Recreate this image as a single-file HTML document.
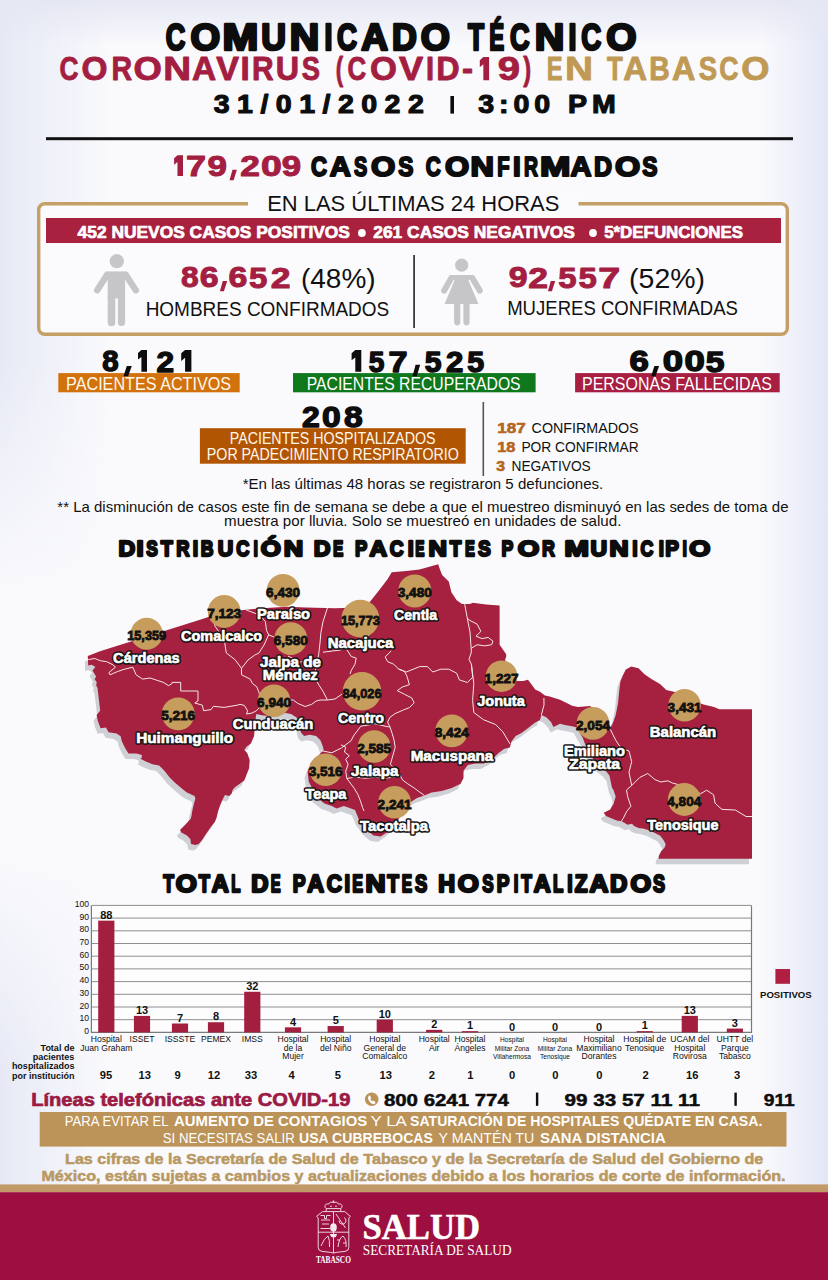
<!DOCTYPE html>
<html><head><meta charset="utf-8"><title>Comunicado Técnico COVID-19 Tabasco</title>
<style>
html,body{margin:0;padding:0;background:#f7f7fb;}
body{width:828px;height:1280px;overflow:hidden;}
svg{display:block;}
.sb{font-family:"Liberation Sans",sans-serif;font-weight:bold;}
.sr{font-family:"Liberation Sans",sans-serif;font-weight:normal;}
.lbl{font-family:"Liberation Sans",sans-serif;font-weight:bold;fill:#fff;stroke:#161616;stroke-width:2.4px;paint-order:stroke fill;stroke-linejoin:round;}
.num{font-family:"Liberation Sans",sans-serif;font-weight:bold;fill:#111;}
</style></head>
<body>
<svg width="828" height="1280" viewBox="0 0 828 1280">
<defs>
<linearGradient id="bgL" x1="0" y1="0" x2="1" y2="0">
<stop offset="0" stop-color="#e6e9f5" stop-opacity="1"/>
<stop offset="1" stop-color="#e6e9f5" stop-opacity="0"/>
</linearGradient>
<linearGradient id="bgR" x1="0" y1="0" x2="1" y2="0">
<stop offset="0" stop-color="#e3e6f6" stop-opacity="0"/>
<stop offset="1" stop-color="#e3e6f6" stop-opacity="1"/>
</linearGradient>
<linearGradient id="bgT" x1="0" y1="0" x2="0" y2="1">
<stop offset="0" stop-color="#e5e7f3" stop-opacity="1"/>
<stop offset="1" stop-color="#e5e7f3" stop-opacity="0"/>
</linearGradient>
<linearGradient id="mL" x1="0" y1="0" x2="0" y2="1">
<stop offset="0" stop-color="#fff"/>
<stop offset="0.3" stop-color="#fff"/>
<stop offset="0.5" stop-color="#000"/>
<stop offset="0.72" stop-color="#000"/>
<stop offset="0.9" stop-color="#fff"/>
<stop offset="1" stop-color="#fff"/>
</linearGradient>
<mask id="maskL"><rect x="0" y="0" width="120" height="1190" fill="url(#mL)"/></mask>
</defs>
<rect x="0" y="0" width="828" height="1280" fill="#fafafd"/>
<rect x="0" y="0" width="110" height="1190" fill="url(#bgL)" mask="url(#maskL)"/>
<rect x="760" y="0" width="68" height="1190" fill="url(#bgR)"/>
<rect x="0" y="0" width="828" height="45" fill="url(#bgT)"/>
<text x="165.69" y="49.70" font-size="36.7733" font-family="Liberation Sans" font-weight="bold" fill="#0d0d0d" stroke="#0d0d0d" stroke-width="2.6" stroke-linejoin="round" textLength="19.55" lengthAdjust="spacingAndGlyphs">C</text>
<text x="190.64" y="49.70" font-size="36.7733" font-family="Liberation Sans" font-weight="bold" fill="#0d0d0d" stroke="#0d0d0d" stroke-width="2.6" stroke-linejoin="round" textLength="29.67" lengthAdjust="spacingAndGlyphs">O</text>
<text x="222.62" y="49.70" font-size="36.7733" font-family="Liberation Sans" font-weight="bold" fill="#0d0d0d" stroke="#0d0d0d" stroke-width="2.6" stroke-linejoin="round" textLength="35.86" lengthAdjust="spacingAndGlyphs">M</text>
<text x="261.24" y="49.70" font-size="36.7733" font-family="Liberation Sans" font-weight="bold" fill="#0d0d0d" stroke="#0d0d0d" stroke-width="2.6" stroke-linejoin="round" textLength="24.75" lengthAdjust="spacingAndGlyphs">U</text>
<text x="289.87" y="49.70" font-size="36.7733" font-family="Liberation Sans" font-weight="bold" fill="#0d0d0d" stroke="#0d0d0d" stroke-width="2.6" stroke-linejoin="round" textLength="29.48" lengthAdjust="spacingAndGlyphs">N</text>
<text x="324.50" y="49.70" font-size="36.7733" font-family="Liberation Sans" font-weight="bold" fill="#0d0d0d" stroke="#0d0d0d" stroke-width="2.6" stroke-linejoin="round" textLength="7.91" lengthAdjust="spacingAndGlyphs">I</text>
<text x="337.06" y="49.70" font-size="36.7733" font-family="Liberation Sans" font-weight="bold" fill="#0d0d0d" stroke="#0d0d0d" stroke-width="2.6" stroke-linejoin="round" textLength="19.99" lengthAdjust="spacingAndGlyphs">C</text>
<text x="361.28" y="49.70" font-size="36.7733" font-family="Liberation Sans" font-weight="bold" fill="#0d0d0d" stroke="#0d0d0d" stroke-width="2.6" stroke-linejoin="round" textLength="26.80" lengthAdjust="spacingAndGlyphs">A</text>
<text x="392.00" y="49.70" font-size="36.7733" font-family="Liberation Sans" font-weight="bold" fill="#0d0d0d" stroke="#0d0d0d" stroke-width="2.6" stroke-linejoin="round" textLength="24.85" lengthAdjust="spacingAndGlyphs">D</text>
<text x="420.67" y="49.70" font-size="36.7733" font-family="Liberation Sans" font-weight="bold" fill="#0d0d0d" stroke="#0d0d0d" stroke-width="2.6" stroke-linejoin="round" textLength="29.11" lengthAdjust="spacingAndGlyphs">O</text>
<text x="467.90" y="49.70" font-size="36.7733" font-family="Liberation Sans" font-weight="bold" fill="#0d0d0d" stroke="#0d0d0d" stroke-width="2.6" stroke-linejoin="round" textLength="16.08" lengthAdjust="spacingAndGlyphs">T</text>
<text x="489.30" y="49.70" font-size="36.7733" font-family="Liberation Sans" font-weight="bold" fill="#0d0d0d" stroke="#0d0d0d" stroke-width="2.6" stroke-linejoin="round" textLength="14.98" lengthAdjust="spacingAndGlyphs">É</text>
<text x="509.89" y="49.70" font-size="36.7733" font-family="Liberation Sans" font-weight="bold" fill="#0d0d0d" stroke="#0d0d0d" stroke-width="2.6" stroke-linejoin="round" textLength="19.55" lengthAdjust="spacingAndGlyphs">C</text>
<text x="534.86" y="49.70" font-size="36.7733" font-family="Liberation Sans" font-weight="bold" fill="#0d0d0d" stroke="#0d0d0d" stroke-width="2.6" stroke-linejoin="round" textLength="29.60" lengthAdjust="spacingAndGlyphs">N</text>
<text x="568.40" y="49.70" font-size="36.7733" font-family="Liberation Sans" font-weight="bold" fill="#0d0d0d" stroke="#0d0d0d" stroke-width="2.6" stroke-linejoin="round" textLength="7.91" lengthAdjust="spacingAndGlyphs">I</text>
<text x="581.36" y="49.70" font-size="36.7733" font-family="Liberation Sans" font-weight="bold" fill="#0d0d0d" stroke="#0d0d0d" stroke-width="2.6" stroke-linejoin="round" textLength="19.99" lengthAdjust="spacingAndGlyphs">C</text>
<text x="606.21" y="49.70" font-size="36.7733" font-family="Liberation Sans" font-weight="bold" fill="#0d0d0d" stroke="#0d0d0d" stroke-width="2.6" stroke-linejoin="round" textLength="30.23" lengthAdjust="spacingAndGlyphs">O</text>
<text x="59.47" y="80.30" font-size="32.4128" font-family="Liberation Sans" font-weight="bold" fill="#a41e42" stroke="#a41e42" stroke-width="0.9" stroke-linejoin="round" textLength="19.00" lengthAdjust="spacingAndGlyphs">C</text>
<text x="81.58" y="80.30" font-size="32.4128" font-family="Liberation Sans" font-weight="bold" fill="#a41e42" stroke="#a41e42" stroke-width="0.9" stroke-linejoin="round" textLength="25.97" lengthAdjust="spacingAndGlyphs">O</text>
<text x="111.54" y="80.30" font-size="32.4128" font-family="Liberation Sans" font-weight="bold" fill="#a41e42" stroke="#a41e42" stroke-width="0.9" stroke-linejoin="round" textLength="20.59" lengthAdjust="spacingAndGlyphs">R</text>
<text x="133.46" y="80.30" font-size="32.4128" font-family="Liberation Sans" font-weight="bold" fill="#a41e42" stroke="#a41e42" stroke-width="0.9" stroke-linejoin="round" textLength="28.32" lengthAdjust="spacingAndGlyphs">O</text>
<text x="163.27" y="80.30" font-size="32.4128" font-family="Liberation Sans" font-weight="bold" fill="#a41e42" stroke="#a41e42" stroke-width="0.9" stroke-linejoin="round" textLength="27.88" lengthAdjust="spacingAndGlyphs">N</text>
<text x="191.92" y="80.30" font-size="32.4128" font-family="Liberation Sans" font-weight="bold" fill="#a41e42" stroke="#a41e42" stroke-width="0.9" stroke-linejoin="round" textLength="24.11" lengthAdjust="spacingAndGlyphs">A</text>
<text x="216.22" y="80.30" font-size="32.4128" font-family="Liberation Sans" font-weight="bold" fill="#a41e42" stroke="#a41e42" stroke-width="0.9" stroke-linejoin="round" textLength="22.77" lengthAdjust="spacingAndGlyphs">V</text>
<text x="240.52" y="80.30" font-size="32.4128" font-family="Liberation Sans" font-weight="bold" fill="#a41e42" stroke="#a41e42" stroke-width="0.9" stroke-linejoin="round" textLength="9.26" lengthAdjust="spacingAndGlyphs">I</text>
<text x="251.95" y="80.30" font-size="32.4128" font-family="Liberation Sans" font-weight="bold" fill="#a41e42" stroke="#a41e42" stroke-width="0.9" stroke-linejoin="round" textLength="21.62" lengthAdjust="spacingAndGlyphs">R</text>
<text x="275.71" y="80.30" font-size="32.4128" font-family="Liberation Sans" font-weight="bold" fill="#a41e42" stroke="#a41e42" stroke-width="0.9" stroke-linejoin="round" textLength="23.31" lengthAdjust="spacingAndGlyphs">U</text>
<text x="301.76" y="80.30" font-size="32.4128" font-family="Liberation Sans" font-weight="bold" fill="#a41e42" stroke="#a41e42" stroke-width="0.9" stroke-linejoin="round" textLength="18.26" lengthAdjust="spacingAndGlyphs">S</text>
<text x="335.64" y="80.30" font-size="32.4128" font-family="Liberation Sans" font-weight="bold" fill="#a41e42" stroke="#a41e42" stroke-width="0.9" stroke-linejoin="round" textLength="7.43" lengthAdjust="spacingAndGlyphs">(</text>
<text x="347.49" y="80.30" font-size="32.4128" font-family="Liberation Sans" font-weight="bold" fill="#a41e42" stroke="#a41e42" stroke-width="0.9" stroke-linejoin="round" textLength="18.67" lengthAdjust="spacingAndGlyphs">C</text>
<text x="369.93" y="80.30" font-size="32.4128" font-family="Liberation Sans" font-weight="bold" fill="#a41e42" stroke="#a41e42" stroke-width="0.9" stroke-linejoin="round" textLength="26.87" lengthAdjust="spacingAndGlyphs">O</text>
<text x="398.90" y="80.30" font-size="32.4128" font-family="Liberation Sans" font-weight="bold" fill="#a41e42" stroke="#a41e42" stroke-width="0.9" stroke-linejoin="round" textLength="24.20" lengthAdjust="spacingAndGlyphs">V</text>
<text x="426.00" y="80.30" font-size="32.4128" font-family="Liberation Sans" font-weight="bold" fill="#a41e42" stroke="#a41e42" stroke-width="0.9" stroke-linejoin="round" textLength="8.10" lengthAdjust="spacingAndGlyphs">I</text>
<text x="436.29" y="80.30" font-size="32.4128" font-family="Liberation Sans" font-weight="bold" fill="#a41e42" stroke="#a41e42" stroke-width="0.9" stroke-linejoin="round" textLength="23.32" lengthAdjust="spacingAndGlyphs">D</text>
<text x="462.06" y="80.30" font-size="32.4128" font-family="Liberation Sans" font-weight="bold" fill="#a41e42" stroke="#a41e42" stroke-width="0.9" stroke-linejoin="round" textLength="11.02" lengthAdjust="spacingAndGlyphs">-</text>
<polygon points="483.33,57.10 489.10,57.10 489.10,80.30 483.33,80.30 483.33,64.31 479.80,67.13 479.80,60.22" fill="#a41e42"/>
<text x="497.86" y="80.30" font-size="32.4128" font-family="Liberation Sans" font-weight="bold" fill="#a41e42" stroke="#a41e42" stroke-width="0.9" stroke-linejoin="round" textLength="22.27" lengthAdjust="spacingAndGlyphs">9</text>
<text x="523.33" y="80.30" font-size="32.4128" font-family="Liberation Sans" font-weight="bold" fill="#a41e42" stroke="#a41e42" stroke-width="0.9" stroke-linejoin="round" textLength="7.91" lengthAdjust="spacingAndGlyphs">)</text>
<text x="546.66" y="80.30" font-size="32.4128" font-family="Liberation Sans" font-weight="bold" fill="#c09a55" stroke="#c09a55" stroke-width="0.9" stroke-linejoin="round" textLength="15.81" lengthAdjust="spacingAndGlyphs">E</text>
<text x="565.06" y="80.30" font-size="32.4128" font-family="Liberation Sans" font-weight="bold" fill="#c09a55" stroke="#c09a55" stroke-width="0.9" stroke-linejoin="round" textLength="28.01" lengthAdjust="spacingAndGlyphs">N</text>
<text x="607.06" y="80.30" font-size="32.4128" font-family="Liberation Sans" font-weight="bold" fill="#c09a55" stroke="#c09a55" stroke-width="0.9" stroke-linejoin="round" textLength="15.77" lengthAdjust="spacingAndGlyphs">T</text>
<text x="623.23" y="80.30" font-size="32.4128" font-family="Liberation Sans" font-weight="bold" fill="#c09a55" stroke="#c09a55" stroke-width="0.9" stroke-linejoin="round" textLength="23.79" lengthAdjust="spacingAndGlyphs">A</text>
<text x="649.35" y="80.30" font-size="32.4128" font-family="Liberation Sans" font-weight="bold" fill="#c09a55" stroke="#c09a55" stroke-width="0.9" stroke-linejoin="round" textLength="20.49" lengthAdjust="spacingAndGlyphs">B</text>
<text x="671.94" y="80.30" font-size="32.4128" font-family="Liberation Sans" font-weight="bold" fill="#c09a55" stroke="#c09a55" stroke-width="0.9" stroke-linejoin="round" textLength="23.36" lengthAdjust="spacingAndGlyphs">A</text>
<text x="698.86" y="80.30" font-size="32.4128" font-family="Liberation Sans" font-weight="bold" fill="#c09a55" stroke="#c09a55" stroke-width="0.9" stroke-linejoin="round" textLength="18.37" lengthAdjust="spacingAndGlyphs">S</text>
<text x="719.36" y="80.30" font-size="32.4128" font-family="Liberation Sans" font-weight="bold" fill="#c09a55" stroke="#c09a55" stroke-width="0.9" stroke-linejoin="round" textLength="19.22" lengthAdjust="spacingAndGlyphs">C</text>
<text x="741.16" y="80.30" font-size="32.4128" font-family="Liberation Sans" font-weight="bold" fill="#c09a55" stroke="#c09a55" stroke-width="0.9" stroke-linejoin="round" textLength="28.21" lengthAdjust="spacingAndGlyphs">O</text>
<text x="0" y="0" transform="translate(213.8,113.4) scale(1.12,1)" font-size="25.5" fill="#0d0d0d" font-family="Liberation Sans" font-weight="bold" textLength="187.5" lengthAdjust="spacing" stroke="#0d0d0d" stroke-width="1.1" stroke-linejoin="round">31/01/2022</text>
<rect x="450.4" y="96" width="3.6" height="17.6" fill="#0d0d0d"/>
<text x="0" y="0" transform="translate(478.3,113.4) scale(1.12,1)" font-size="25.5" fill="#0d0d0d" font-family="Liberation Sans" font-weight="bold" textLength="122.768" lengthAdjust="spacing" stroke="#0d0d0d" stroke-width="1.1" stroke-linejoin="round">3:00 PM</text>
<rect x="46" y="137.2" width="747" height="3" fill="#111"/>
<polygon points="177.48,155.20 183.00,155.20 183.00,176.10 177.48,176.10 177.48,162.10 174.10,164.80 174.10,158.18" fill="#a41e42"/>
<text x="186.05" y="176.10" font-size="28.6119" font-family="Liberation Sans" font-weight="bold" fill="#a41e42" stroke="#a41e42" stroke-width="1" stroke-linejoin="round" textLength="20.03" lengthAdjust="spacingAndGlyphs">7</text>
<text x="207.58" y="175.85" font-size="28.6119" font-family="Liberation Sans" font-weight="bold" fill="#a41e42" stroke="#a41e42" stroke-width="1" stroke-linejoin="round" textLength="19.52" lengthAdjust="spacingAndGlyphs">9</text>
<path d="M232.5 169.8 L236.9 169.8 L233.6 180.2 L229.5 180.2 Z" fill="#a41e42"/>
<text x="240.18" y="176.10" font-size="28.6119" font-family="Liberation Sans" font-weight="bold" fill="#a41e42" stroke="#a41e42" stroke-width="1" stroke-linejoin="round" textLength="19.64" lengthAdjust="spacingAndGlyphs">2</text>
<text x="261.12" y="175.85" font-size="28.6119" font-family="Liberation Sans" font-weight="bold" fill="#a41e42" stroke="#a41e42" stroke-width="1" stroke-linejoin="round" textLength="20.82" lengthAdjust="spacingAndGlyphs">0</text>
<text x="281.79" y="175.85" font-size="28.6119" font-family="Liberation Sans" font-weight="bold" fill="#a41e42" stroke="#a41e42" stroke-width="1" stroke-linejoin="round" textLength="19.40" lengthAdjust="spacingAndGlyphs">9</text>
<text x="310.99" y="175.80" font-size="27.0349" font-family="Liberation Sans" font-weight="bold" fill="#0d0d0d" stroke="#0d0d0d" stroke-width="2" stroke-linejoin="round" textLength="16.02" lengthAdjust="spacingAndGlyphs">C</text>
<text x="329.77" y="175.80" font-size="27.0349" font-family="Liberation Sans" font-weight="bold" fill="#0d0d0d" stroke="#0d0d0d" stroke-width="2" stroke-linejoin="round" textLength="21.10" lengthAdjust="spacingAndGlyphs">A</text>
<text x="354.03" y="175.80" font-size="27.0349" font-family="Liberation Sans" font-weight="bold" fill="#0d0d0d" stroke="#0d0d0d" stroke-width="2" stroke-linejoin="round" textLength="13.25" lengthAdjust="spacingAndGlyphs">S</text>
<text x="371.02" y="175.80" font-size="27.0349" font-family="Liberation Sans" font-weight="bold" fill="#0d0d0d" stroke="#0d0d0d" stroke-width="2" stroke-linejoin="round" textLength="24.29" lengthAdjust="spacingAndGlyphs">O</text>
<text x="398.35" y="175.80" font-size="27.0349" font-family="Liberation Sans" font-weight="bold" fill="#0d0d0d" stroke="#0d0d0d" stroke-width="2" stroke-linejoin="round" textLength="15.14" lengthAdjust="spacingAndGlyphs">S</text>
<text x="425.65" y="175.80" font-size="27.0349" font-family="Liberation Sans" font-weight="bold" fill="#0d0d0d" stroke="#0d0d0d" stroke-width="2" stroke-linejoin="round" textLength="15.02" lengthAdjust="spacingAndGlyphs">C</text>
<text x="445.12" y="175.80" font-size="27.0349" font-family="Liberation Sans" font-weight="bold" fill="#0d0d0d" stroke="#0d0d0d" stroke-width="2" stroke-linejoin="round" textLength="24.18" lengthAdjust="spacingAndGlyphs">O</text>
<text x="470.63" y="175.80" font-size="27.0349" font-family="Liberation Sans" font-weight="bold" fill="#0d0d0d" stroke="#0d0d0d" stroke-width="2" stroke-linejoin="round" textLength="23.46" lengthAdjust="spacingAndGlyphs">N</text>
<text x="497.14" y="175.80" font-size="27.0349" font-family="Liberation Sans" font-weight="bold" fill="#0d0d0d" stroke="#0d0d0d" stroke-width="2" stroke-linejoin="round" textLength="12.40" lengthAdjust="spacingAndGlyphs">F</text>
<text x="513.14" y="175.80" font-size="27.0349" font-family="Liberation Sans" font-weight="bold" fill="#0d0d0d" stroke="#0d0d0d" stroke-width="2" stroke-linejoin="round" textLength="7.72" lengthAdjust="spacingAndGlyphs">I</text>
<text x="523.90" y="175.80" font-size="27.0349" font-family="Liberation Sans" font-weight="bold" fill="#0d0d0d" stroke="#0d0d0d" stroke-width="2" stroke-linejoin="round" textLength="13.99" lengthAdjust="spacingAndGlyphs">R</text>
<text x="539.96" y="175.80" font-size="27.0349" font-family="Liberation Sans" font-weight="bold" fill="#0d0d0d" stroke="#0d0d0d" stroke-width="2" stroke-linejoin="round" textLength="30.38" lengthAdjust="spacingAndGlyphs">M</text>
<text x="570.48" y="175.80" font-size="27.0349" font-family="Liberation Sans" font-weight="bold" fill="#0d0d0d" stroke="#0d0d0d" stroke-width="2" stroke-linejoin="round" textLength="20.99" lengthAdjust="spacingAndGlyphs">A</text>
<text x="593.93" y="175.80" font-size="27.0349" font-family="Liberation Sans" font-weight="bold" fill="#0d0d0d" stroke="#0d0d0d" stroke-width="2" stroke-linejoin="round" textLength="18.02" lengthAdjust="spacingAndGlyphs">D</text>
<text x="614.97" y="175.80" font-size="27.0349" font-family="Liberation Sans" font-weight="bold" fill="#0d0d0d" stroke="#0d0d0d" stroke-width="2" stroke-linejoin="round" textLength="25.19" lengthAdjust="spacingAndGlyphs">O</text>
<text x="642.24" y="175.80" font-size="27.0349" font-family="Liberation Sans" font-weight="bold" fill="#0d0d0d" stroke="#0d0d0d" stroke-width="2" stroke-linejoin="round" textLength="15.25" lengthAdjust="spacingAndGlyphs">S</text>
<rect x="38.7" y="203.7" width="748.6" height="130.6" rx="6" fill="#fbfbfd" stroke="#c4a066" stroke-width="3.4"/>
<rect x="248" y="198" width="330.5" height="12" fill="#fbfbfd"/>
<text x="267.21" y="211.30" font-size="21.6" font-family="Liberation Sans" fill="#111" textLength="292.09" lengthAdjust="spacingAndGlyphs">EN LAS ÚLTIMAS 24 HORAS</text>
<rect x="46" y="218" width="735" height="25" fill="#a8213f"/>
<text x="77.59" y="238.20" font-size="17.2" font-family="Liberation Sans" font-weight="bold" fill="#fff" stroke="#fff" stroke-width="0.7" stroke-linejoin="round" textLength="272.34" lengthAdjust="spacingAndGlyphs">452 NUEVOS CASOS POSITIVOS</text>
<circle cx="361.9" cy="233" r="3.9" fill="#fff"/>
<text x="373.25" y="238.20" font-size="17.2" font-family="Liberation Sans" font-weight="bold" fill="#fff" stroke="#fff" stroke-width="0.7" stroke-linejoin="round" textLength="201.67" lengthAdjust="spacingAndGlyphs">261 CASOS NEGATIVOS</text>
<circle cx="593" cy="233" r="3.9" fill="#fff"/>
<text x="604.13" y="238.20" font-size="17.2" font-family="Liberation Sans" font-weight="bold" fill="#fff" stroke="#fff" stroke-width="0.7" stroke-linejoin="round" textLength="138.98" lengthAdjust="spacingAndGlyphs">5*DEFUNCIONES</text>
<g fill="#c6c6c8" stroke="none">
<circle cx="116.8" cy="261.2" r="7.1"/>
<path d="M107.7 271.4 h17.4 v27 h-17.4z"/>
<line x1="107.2" y1="274.6" x2="97.2" y2="290.2" stroke="#c6c6c8" stroke-width="6.4" stroke-linecap="round"/>
<line x1="125.6" y1="274.6" x2="135.8" y2="290.2" stroke="#c6c6c8" stroke-width="6.4" stroke-linecap="round"/>
<path d="M107.7 295 h7.6 v27.4 a3.8 3.8 0 0 1 -7.6 0z"/>
<path d="M117.9 295 h7.2 v27.4 a3.6 3.6 0 0 1 -7.2 0z"/>
<circle cx="461.7" cy="265.2" r="6.6"/>
<line x1="451.3" y1="278" x2="444.2" y2="290.6" stroke="#c6c6c8" stroke-width="6" stroke-linecap="round"/>
<line x1="472.3" y1="278" x2="479.8" y2="290.6" stroke="#c6c6c8" stroke-width="6" stroke-linecap="round"/>
<path d="M451.5 275 h21 a2 2 0 0 1 1.5 1 l0.5 1.5 h-25 l0.5 -1.5 a2 2 0 0 1 1.5 -1z"/>
<line x1="455.6" y1="280.5" x2="444.6" y2="304" stroke="#fbfbfd" stroke-width="1.6"/>
<line x1="468" y1="280.5" x2="479" y2="304" stroke="#fbfbfd" stroke-width="1.6"/>
<path d="M451.5 276 h21 l-4 4.5 l10 23.5 h-34 l10 -23.5z"/>
<path d="M454.1 303.5 h6.2 v18.8 a3.1 3.1 0 0 1 -6.2 0z"/>
<path d="M463.4 303.5 h6.2 v18.8 a3.1 3.1 0 0 1 -6.2 0z"/>
</g>
<rect x="413.3" y="255" width="1.6" height="73" fill="#222"/>
<text x="180.99" y="287.25" font-size="30.3116" font-family="Liberation Sans" font-weight="bold" fill="#a41e42" stroke="#a41e42" stroke-width="1" stroke-linejoin="round" textLength="17.69" lengthAdjust="spacingAndGlyphs">8</text>
<text x="199.66" y="287.25" font-size="30.3116" font-family="Liberation Sans" font-weight="bold" fill="#a41e42" stroke="#a41e42" stroke-width="1" stroke-linejoin="round" textLength="18.87" lengthAdjust="spacingAndGlyphs">6</text>
<path d="M222.8 281.0 L227.2 281.0 L223.9 291.2 L219.9 291.2 Z" fill="#a41e42"/>
<text x="228.56" y="287.25" font-size="30.3116" font-family="Liberation Sans" font-weight="bold" fill="#a41e42" stroke="#a41e42" stroke-width="1" stroke-linejoin="round" textLength="18.87" lengthAdjust="spacingAndGlyphs">6</text>
<text x="249.09" y="287.50" font-size="30.3116" font-family="Liberation Sans" font-weight="bold" fill="#a41e42" stroke="#a41e42" stroke-width="1" stroke-linejoin="round" textLength="18.33" lengthAdjust="spacingAndGlyphs">5</text>
<text x="270.67" y="287.50" font-size="30.3116" font-family="Liberation Sans" font-weight="bold" fill="#a41e42" stroke="#a41e42" stroke-width="1" stroke-linejoin="round" textLength="19.75" lengthAdjust="spacingAndGlyphs">2</text>
<text x="300.96" y="288.00" font-size="27" font-family="Liberation Sans" fill="#111" textLength="74.67" lengthAdjust="spacingAndGlyphs">(48%)</text>
<text x="145.64" y="316.20" font-size="19.3" font-family="Liberation Sans" fill="#111" textLength="243.63" lengthAdjust="spacingAndGlyphs">HOMBRES CONFIRMADOS</text>
<text x="508.83" y="287.25" font-size="30.3116" font-family="Liberation Sans" font-weight="bold" fill="#a41e42" stroke="#a41e42" stroke-width="1" stroke-linejoin="round" textLength="18.83" lengthAdjust="spacingAndGlyphs">9</text>
<text x="528.37" y="287.50" font-size="30.3116" font-family="Liberation Sans" font-weight="bold" fill="#a41e42" stroke="#a41e42" stroke-width="1" stroke-linejoin="round" textLength="19.75" lengthAdjust="spacingAndGlyphs">2</text>
<path d="M550.8 281.0 L555.2 281.0 L551.9 291.2 L547.9 291.2 Z" fill="#a41e42"/>
<text x="558.29" y="287.50" font-size="30.3116" font-family="Liberation Sans" font-weight="bold" fill="#a41e42" stroke="#a41e42" stroke-width="1" stroke-linejoin="round" textLength="18.33" lengthAdjust="spacingAndGlyphs">5</text>
<text x="578.59" y="287.50" font-size="30.3116" font-family="Liberation Sans" font-weight="bold" fill="#a41e42" stroke="#a41e42" stroke-width="1" stroke-linejoin="round" textLength="18.33" lengthAdjust="spacingAndGlyphs">5</text>
<text x="598.21" y="287.50" font-size="30.3116" font-family="Liberation Sans" font-weight="bold" fill="#a41e42" stroke="#a41e42" stroke-width="1" stroke-linejoin="round" textLength="21.93" lengthAdjust="spacingAndGlyphs">7</text>
<text x="629.13" y="287.50" font-size="27" font-family="Liberation Sans" fill="#111" textLength="75.93" lengthAdjust="spacingAndGlyphs">(52%)</text>
<text x="507.18" y="315.40" font-size="19.6" font-family="Liberation Sans" fill="#111" textLength="230.77" lengthAdjust="spacingAndGlyphs">MUJERES CONFIRMADAS</text>
<rect x="58.3" y="373.1" width="181.4" height="19.2" fill="#d2720c"/>
<text x="66.09" y="389.70" font-size="18" font-family="Liberation Sans" fill="#fff8ee" textLength="165.04" lengthAdjust="spacingAndGlyphs">PACIENTES ACTIVOS</text>
<rect x="293" y="373.1" width="242.6" height="19.2" fill="#0f771c"/>
<text x="306.72" y="389.70" font-size="18" font-family="Liberation Sans" fill="#fff" textLength="213.90" lengthAdjust="spacingAndGlyphs">PACIENTES RECUPERADOS</text>
<rect x="575.1" y="373.1" width="204.6" height="19.2" fill="#a81f42"/>
<text x="582.00" y="389.70" font-size="18" font-family="Liberation Sans" fill="#fff" textLength="189.93" lengthAdjust="spacingAndGlyphs">PERSONAS FALLECIDAS</text>
<text x="102.37" y="371.45" font-size="29.3201" font-family="Liberation Sans" font-weight="bold" fill="#0d0d0d" stroke="#0d0d0d" stroke-width="1.4" stroke-linejoin="round" textLength="16.34" lengthAdjust="spacingAndGlyphs">8</text>
<path d="M126.8 366.0 L131.8 366.0 L128.1 376.2 L123.5 376.2 Z" fill="#0d0d0d"/>
<polygon points="141.42,349.90 147.00,349.90 147.00,371.70 141.42,371.70 141.42,356.88 138.00,359.61 138.00,352.92" fill="#0d0d0d"/>
<text x="156.61" y="371.70" font-size="29.3201" font-family="Liberation Sans" font-weight="bold" fill="#0d0d0d" stroke="#0d0d0d" stroke-width="1.4" stroke-linejoin="round" textLength="17.56" lengthAdjust="spacingAndGlyphs">2</text>
<polygon points="185.08,349.90 191.40,349.90 191.40,371.70 185.08,371.70 185.08,357.81 181.20,360.91 181.20,353.32" fill="#0d0d0d"/>
<polygon points="355.29,349.90 361.30,349.90 361.30,371.70 355.29,371.70 355.29,357.42 351.60,360.37 351.60,353.15" fill="#0d0d0d"/>
<text x="368.83" y="371.70" font-size="29.3201" font-family="Liberation Sans" font-weight="bold" fill="#0d0d0d" stroke="#0d0d0d" stroke-width="1.4" stroke-linejoin="round" textLength="15.65" lengthAdjust="spacingAndGlyphs">5</text>
<text x="388.53" y="371.70" font-size="29.3201" font-family="Liberation Sans" font-weight="bold" fill="#0d0d0d" stroke="#0d0d0d" stroke-width="1.4" stroke-linejoin="round" textLength="18.96" lengthAdjust="spacingAndGlyphs">7</text>
<path d="M415.6 364.8 L420.2 364.8 L416.7 376.2 L412.5 376.2 Z" fill="#0d0d0d"/>
<text x="424.77" y="371.70" font-size="29.3201" font-family="Liberation Sans" font-weight="bold" fill="#0d0d0d" stroke="#0d0d0d" stroke-width="1.4" stroke-linejoin="round" textLength="16.77" lengthAdjust="spacingAndGlyphs">5</text>
<text x="445.92" y="371.70" font-size="29.3201" font-family="Liberation Sans" font-weight="bold" fill="#0d0d0d" stroke="#0d0d0d" stroke-width="1.4" stroke-linejoin="round" textLength="17.33" lengthAdjust="spacingAndGlyphs">2</text>
<text x="467.27" y="371.70" font-size="29.3201" font-family="Liberation Sans" font-weight="bold" fill="#0d0d0d" stroke="#0d0d0d" stroke-width="1.4" stroke-linejoin="round" textLength="16.88" lengthAdjust="spacingAndGlyphs">5</text>
<text x="629.53" y="371.45" font-size="29.3201" font-family="Liberation Sans" font-weight="bold" fill="#0d0d0d" stroke="#0d0d0d" stroke-width="1.4" stroke-linejoin="round" textLength="19.33" lengthAdjust="spacingAndGlyphs">6</text>
<path d="M654.4 366.0 L659.1 366.0 L655.5 376.2 L651.2 376.2 Z" fill="#0d0d0d"/>
<text x="662.75" y="371.45" font-size="29.3201" font-family="Liberation Sans" font-weight="bold" fill="#0d0d0d" stroke="#0d0d0d" stroke-width="1.4" stroke-linejoin="round" textLength="20.35" lengthAdjust="spacingAndGlyphs">0</text>
<text x="684.45" y="371.45" font-size="29.3201" font-family="Liberation Sans" font-weight="bold" fill="#0d0d0d" stroke="#0d0d0d" stroke-width="1.4" stroke-linejoin="round" textLength="20.35" lengthAdjust="spacingAndGlyphs">0</text>
<text x="705.87" y="371.70" font-size="29.3201" font-family="Liberation Sans" font-weight="bold" fill="#0d0d0d" stroke="#0d0d0d" stroke-width="1.4" stroke-linejoin="round" textLength="18.67" lengthAdjust="spacingAndGlyphs">5</text>
<text x="302.09" y="426.80" font-size="30.3116" font-family="Liberation Sans" font-weight="bold" fill="#0d0d0d" stroke="#0d0d0d" stroke-width="1.4" stroke-linejoin="round" textLength="17.79" lengthAdjust="spacingAndGlyphs">2</text>
<text x="321.97" y="426.55" font-size="30.3116" font-family="Liberation Sans" font-weight="bold" fill="#0d0d0d" stroke="#0d0d0d" stroke-width="1.4" stroke-linejoin="round" textLength="18.71" lengthAdjust="spacingAndGlyphs">0</text>
<text x="343.93" y="426.55" font-size="30.3116" font-family="Liberation Sans" font-weight="bold" fill="#0d0d0d" stroke="#0d0d0d" stroke-width="1.4" stroke-linejoin="round" textLength="18.70" lengthAdjust="spacingAndGlyphs">8</text>
<rect x="199.9" y="428.2" width="265.8" height="35.5" fill="#b25503"/>
<text x="229.74" y="443.80" font-size="16" font-family="Liberation Sans" fill="#fff8ee" textLength="205.80" lengthAdjust="spacingAndGlyphs">PACIENTES HOSPITALIZADOS</text>
<text x="206.84" y="460.10" font-size="16" font-family="Liberation Sans" fill="#fff8ee" textLength="251.93" lengthAdjust="spacingAndGlyphs">POR PADECIMIENTO RESPIRATORIO</text>
<rect x="482.5" y="402" width="1.6" height="74" fill="#555"/>
<text x="497.2" y="433.2" font-size="15.5" fill="#b5651d" font-family="Liberation Sans" font-weight="bold" textLength="28.6" lengthAdjust="spacingAndGlyphs" stroke="#b5651d" stroke-width="0.6" stroke-linejoin="round">187</text>
<text x="531.6" y="433.2" font-size="15.5" fill="#111" font-family="Liberation Sans" textLength="107" lengthAdjust="spacingAndGlyphs">CONFIRMADOS</text>
<text x="497.2" y="452.3" font-size="15.5" fill="#b5651d" font-family="Liberation Sans" font-weight="bold" textLength="18.2" lengthAdjust="spacingAndGlyphs" stroke="#b5651d" stroke-width="0.6" stroke-linejoin="round">18</text>
<text x="521.4" y="452.3" font-size="15.5" fill="#111" font-family="Liberation Sans" textLength="117.2" lengthAdjust="spacingAndGlyphs">POR CONFIRMAR</text>
<text x="496.2" y="471.2" font-size="15.5" fill="#b5651d" font-family="Liberation Sans" font-weight="bold" textLength="8.8" lengthAdjust="spacingAndGlyphs" stroke="#b5651d" stroke-width="0.6" stroke-linejoin="round">3</text>
<text x="511.5" y="471.2" font-size="15.5" fill="#111" font-family="Liberation Sans" textLength="79.3" lengthAdjust="spacingAndGlyphs">NEGATIVOS</text>
<text x="242.66" y="489.30" font-size="14.3" font-family="Liberation Sans" fill="#111" textLength="360.62" lengthAdjust="spacingAndGlyphs">*En las últimas 48 horas se registraron 5 defunciones.</text>
<text x="57.36" y="512.00" font-size="14.3" font-family="Liberation Sans" fill="#111" textLength="731.11" lengthAdjust="spacingAndGlyphs">** La disminución de casos este fin de semana se debe a que el muestreo disminuyó en las sedes de toma de</text>
<text x="224.10" y="526.40" font-size="14.3" font-family="Liberation Sans" fill="#111" textLength="397.28" lengthAdjust="spacingAndGlyphs">muestra por lluvia. Solo se muestreó en unidades de salud.</text>
<text x="118.50" y="555.60" font-size="22.8198" font-family="Liberation Sans" font-weight="bold" fill="#0d0d0d" stroke="#0d0d0d" stroke-width="2.3" stroke-linejoin="round" textLength="16.72" lengthAdjust="spacingAndGlyphs">D</text>
<text x="136.43" y="555.60" font-size="22.8198" font-family="Liberation Sans" font-weight="bold" fill="#0d0d0d" stroke="#0d0d0d" stroke-width="2.3" stroke-linejoin="round" textLength="7.14" lengthAdjust="spacingAndGlyphs">I</text>
<text x="146.15" y="555.60" font-size="22.8198" font-family="Liberation Sans" font-weight="bold" fill="#0d0d0d" stroke="#0d0d0d" stroke-width="2.3" stroke-linejoin="round" textLength="11.58" lengthAdjust="spacingAndGlyphs">S</text>
<text x="160.83" y="555.60" font-size="22.8198" font-family="Liberation Sans" font-weight="bold" fill="#0d0d0d" stroke="#0d0d0d" stroke-width="2.3" stroke-linejoin="round" textLength="12.03" lengthAdjust="spacingAndGlyphs">T</text>
<text x="176.22" y="555.60" font-size="22.8198" font-family="Liberation Sans" font-weight="bold" fill="#0d0d0d" stroke="#0d0d0d" stroke-width="2.3" stroke-linejoin="round" textLength="13.31" lengthAdjust="spacingAndGlyphs">R</text>
<text x="192.65" y="555.60" font-size="22.8198" font-family="Liberation Sans" font-weight="bold" fill="#0d0d0d" stroke="#0d0d0d" stroke-width="2.3" stroke-linejoin="round" textLength="5.40" lengthAdjust="spacingAndGlyphs">I</text>
<text x="200.87" y="555.60" font-size="22.8198" font-family="Liberation Sans" font-weight="bold" fill="#0d0d0d" stroke="#0d0d0d" stroke-width="2.3" stroke-linejoin="round" textLength="12.79" lengthAdjust="spacingAndGlyphs">B</text>
<text x="217.66" y="555.60" font-size="22.8198" font-family="Liberation Sans" font-weight="bold" fill="#0d0d0d" stroke="#0d0d0d" stroke-width="2.3" stroke-linejoin="round" textLength="15.50" lengthAdjust="spacingAndGlyphs">U</text>
<text x="236.20" y="555.60" font-size="22.8198" font-family="Liberation Sans" font-weight="bold" fill="#0d0d0d" stroke="#0d0d0d" stroke-width="2.3" stroke-linejoin="round" textLength="13.14" lengthAdjust="spacingAndGlyphs">C</text>
<text x="253.48" y="555.60" font-size="22.8198" font-family="Liberation Sans" font-weight="bold" fill="#0d0d0d" stroke="#0d0d0d" stroke-width="2.3" stroke-linejoin="round" textLength="4.44" lengthAdjust="spacingAndGlyphs">I</text>
<text x="260.69" y="555.60" font-size="22.8198" font-family="Liberation Sans" font-weight="bold" fill="#0d0d0d" stroke="#0d0d0d" stroke-width="2.3" stroke-linejoin="round" textLength="20.15" lengthAdjust="spacingAndGlyphs">Ó</text>
<text x="283.65" y="555.60" font-size="22.8198" font-family="Liberation Sans" font-weight="bold" fill="#0d0d0d" stroke="#0d0d0d" stroke-width="2.3" stroke-linejoin="round" textLength="19.41" lengthAdjust="spacingAndGlyphs">N</text>
<text x="313.80" y="555.60" font-size="22.8198" font-family="Liberation Sans" font-weight="bold" fill="#0d0d0d" stroke="#0d0d0d" stroke-width="2.3" stroke-linejoin="round" textLength="16.72" lengthAdjust="spacingAndGlyphs">D</text>
<text x="332.91" y="555.60" font-size="22.8198" font-family="Liberation Sans" font-weight="bold" fill="#0d0d0d" stroke="#0d0d0d" stroke-width="2.3" stroke-linejoin="round" textLength="10.34" lengthAdjust="spacingAndGlyphs">E</text>
<text x="355.02" y="555.60" font-size="22.8198" font-family="Liberation Sans" font-weight="bold" fill="#0d0d0d" stroke="#0d0d0d" stroke-width="2.3" stroke-linejoin="round" textLength="12.26" lengthAdjust="spacingAndGlyphs">P</text>
<text x="369.64" y="555.60" font-size="22.8198" font-family="Liberation Sans" font-weight="bold" fill="#0d0d0d" stroke="#0d0d0d" stroke-width="2.3" stroke-linejoin="round" textLength="17.55" lengthAdjust="spacingAndGlyphs">A</text>
<text x="389.77" y="555.60" font-size="22.8198" font-family="Liberation Sans" font-weight="bold" fill="#0d0d0d" stroke="#0d0d0d" stroke-width="2.3" stroke-linejoin="round" textLength="13.81" lengthAdjust="spacingAndGlyphs">C</text>
<text x="407.71" y="555.60" font-size="22.8198" font-family="Liberation Sans" font-weight="bold" fill="#0d0d0d" stroke="#0d0d0d" stroke-width="2.3" stroke-linejoin="round" textLength="5.98" lengthAdjust="spacingAndGlyphs">I</text>
<text x="415.32" y="555.60" font-size="22.8198" font-family="Liberation Sans" font-weight="bold" fill="#0d0d0d" stroke="#0d0d0d" stroke-width="2.3" stroke-linejoin="round" textLength="9.27" lengthAdjust="spacingAndGlyphs">E</text>
<text x="428.44" y="555.60" font-size="22.8198" font-family="Liberation Sans" font-weight="bold" fill="#0d0d0d" stroke="#0d0d0d" stroke-width="2.3" stroke-linejoin="round" textLength="18.43" lengthAdjust="spacingAndGlyphs">N</text>
<text x="449.84" y="555.60" font-size="22.8198" font-family="Liberation Sans" font-weight="bold" fill="#0d0d0d" stroke="#0d0d0d" stroke-width="2.3" stroke-linejoin="round" textLength="11.62" lengthAdjust="spacingAndGlyphs">T</text>
<text x="465.06" y="555.60" font-size="22.8198" font-family="Liberation Sans" font-weight="bold" fill="#0d0d0d" stroke="#0d0d0d" stroke-width="2.3" stroke-linejoin="round" textLength="9.87" lengthAdjust="spacingAndGlyphs">E</text>
<text x="477.90" y="555.60" font-size="22.8198" font-family="Liberation Sans" font-weight="bold" fill="#0d0d0d" stroke="#0d0d0d" stroke-width="2.3" stroke-linejoin="round" textLength="12.80" lengthAdjust="spacingAndGlyphs">S</text>
<text x="501.57" y="555.60" font-size="22.8198" font-family="Liberation Sans" font-weight="bold" fill="#0d0d0d" stroke="#0d0d0d" stroke-width="2.3" stroke-linejoin="round" textLength="11.79" lengthAdjust="spacingAndGlyphs">P</text>
<text x="517.72" y="555.60" font-size="22.8198" font-family="Liberation Sans" font-weight="bold" fill="#0d0d0d" stroke="#0d0d0d" stroke-width="2.3" stroke-linejoin="round" textLength="21.49" lengthAdjust="spacingAndGlyphs">O</text>
<text x="541.96" y="555.60" font-size="22.8198" font-family="Liberation Sans" font-weight="bold" fill="#0d0d0d" stroke="#0d0d0d" stroke-width="2.3" stroke-linejoin="round" textLength="12.86" lengthAdjust="spacingAndGlyphs">R</text>
<text x="564.59" y="555.60" font-size="22.8198" font-family="Liberation Sans" font-weight="bold" fill="#0d0d0d" stroke="#0d0d0d" stroke-width="2.3" stroke-linejoin="round" textLength="24.42" lengthAdjust="spacingAndGlyphs">M</text>
<text x="590.47" y="555.60" font-size="22.8198" font-family="Liberation Sans" font-weight="bold" fill="#0d0d0d" stroke="#0d0d0d" stroke-width="2.3" stroke-linejoin="round" textLength="16.58" lengthAdjust="spacingAndGlyphs">U</text>
<text x="609.49" y="555.60" font-size="22.8198" font-family="Liberation Sans" font-weight="bold" fill="#0d0d0d" stroke="#0d0d0d" stroke-width="2.3" stroke-linejoin="round" textLength="19.04" lengthAdjust="spacingAndGlyphs">N</text>
<text x="632.35" y="555.60" font-size="22.8198" font-family="Liberation Sans" font-weight="bold" fill="#0d0d0d" stroke="#0d0d0d" stroke-width="2.3" stroke-linejoin="round" textLength="5.40" lengthAdjust="spacingAndGlyphs">I</text>
<text x="640.62" y="555.60" font-size="22.8198" font-family="Liberation Sans" font-weight="bold" fill="#0d0d0d" stroke="#0d0d0d" stroke-width="2.3" stroke-linejoin="round" textLength="12.81" lengthAdjust="spacingAndGlyphs">C</text>
<text x="658.70" y="555.60" font-size="22.8198" font-family="Liberation Sans" font-weight="bold" fill="#0d0d0d" stroke="#0d0d0d" stroke-width="2.3" stroke-linejoin="round" textLength="5.21" lengthAdjust="spacingAndGlyphs">I</text>
<text x="665.28" y="555.60" font-size="22.8198" font-family="Liberation Sans" font-weight="bold" fill="#0d0d0d" stroke="#0d0d0d" stroke-width="2.3" stroke-linejoin="round" textLength="13.67" lengthAdjust="spacingAndGlyphs">P</text>
<text x="682.48" y="555.60" font-size="22.8198" font-family="Liberation Sans" font-weight="bold" fill="#0d0d0d" stroke="#0d0d0d" stroke-width="2.3" stroke-linejoin="round" textLength="4.44" lengthAdjust="spacingAndGlyphs">I</text>
<text x="689.24" y="555.60" font-size="22.8198" font-family="Liberation Sans" font-weight="bold" fill="#0d0d0d" stroke="#0d0d0d" stroke-width="2.3" stroke-linejoin="round" textLength="21.05" lengthAdjust="spacingAndGlyphs">O</text>
<polygon points="87.8,656 100,651.2 150,635.5 200,619.8 210,616.6 238.6,610.6 258,608.6 287,606.7 306,607.5 335,608.3 360,607.5 369,603 379.7,589.5 387.7,579 391.7,572.3 406.3,571 419.6,569.6 438.2,564.3 439.5,568.3 442.1,575 448.8,581.6 451.4,592.2 456.7,600.2 462,604.1 470,604.1 472.7,602.8 486,604.5 499.6,605.4 499.6,644.7 506.2,654.3 506.2,656.8 505,660 512.5,672 517.1,680.9 523.1,680.9 528,679.7 531.6,684.5 535.2,689.4 540,691.8 544.9,695.4 549.7,696.6 560,699.7 567.2,703.3 572,705.7 578.1,707 590,706 600,712 606,718 610.7,727.5 613.1,722.6 615.6,715.4 618,703.3 619.2,691.2 620.4,681.6 622.8,675.5 625.8,669.5 631.3,666.5 638.5,668.3 644.5,674.3 651.8,679.2 660,684 666.3,689.9 676.9,692.5 692.8,700.5 703.5,704.5 714,707 719.4,709.2 752,709.2 752,858.8 658.6,858.8 659.1,855.2 661.3,850.9 664.6,847.6 665.7,844.3 663.5,840 660.2,835.7 650,830.5 642.8,828.6 638.5,828 634.1,825.9 632,823.7 627.6,824.8 622.2,821.5 616.7,820.4 611.3,818.3 605.9,816.1 603.7,812.8 610.2,809.6 613.5,804.1 615.7,796.5 613.5,790 612,787.8 609.5,775.8 605.9,771 598,765 590,755 584.2,742 583,738.3 578,730 576.9,727.5 572,726.3 564.8,725 560,723.8 553.5,727 551,722 546.3,717.3 541.4,714.9 540,720 534.5,722.9 527.2,728.7 521.4,733 515.7,736 511.3,741.7 509.9,747.5 504,749 498.3,753.3 492.5,759.1 483.8,763.5 475,763.5 467.8,765 463.5,770.7 463.5,778 460.6,783.8 451.9,788.1 441.7,791 431.6,792.5 424.3,795.4 417,798 409.7,802.8 402.5,812.5 395.2,824.5 388,831.8 380.7,836.6 373.5,835.4 366.2,829.4 359,819.7 355,810 351,808.4 343.9,806 336.6,808.4 331.8,806 324.5,803.5 316,797 312.5,789 308.8,781.8 307.6,772.1 311,762.5 318,756 323.7,750 322.6,745.7 320.4,740.2 316.1,735.9 309.6,734.8 304.1,735.9 300.9,732.6 298.7,721.7 296.5,717.4 291.1,714.1 285.7,713 271.5,716.3 261.7,715.2 256.3,714.1 255.2,721.7 254.1,735.9 250.9,743.5 246.5,746.7 244.3,750 247.2,753 249.7,760 249.1,768.3 244.3,780.4 234.6,787.6 232.6,790 231.7,793.4 229.2,795.9 224.9,795.1 222.4,800.1 219.9,806.1 218.2,811.1 216.5,817.9 214.8,822.1 210.6,827.2 205.5,834.8 202.1,839.9 198.7,844.1 195.4,845 191.1,844.1 190.3,839 186.9,835.6 181,832.3 180.1,829.7 182.7,827.2 186.9,823 190.7,818.7 191.6,815.4 192.4,810.3 193.7,804.4 195.4,798.5 194.5,795.9 186.9,792.5 183,789.4 175,782.8 169.7,777.4 164.4,770.8 159.1,765.5 152.4,764.2 145.8,761.5 140.5,758.8 141.8,757.5 141.8,754.9 136.5,753.5 128.5,753.5 125.2,748.2 121.9,741.6 120.6,736.3 116.6,733.6 108.6,732.3 105.9,727.6 100.6,728.3 98,721.6 96.6,715 100.2,710.8 97.5,688 96.1,685.1 96.8,682.2 94.6,679.3 96.1,676.4 92.5,670.6 95.4,667 91.7,664.8 88.2,665.5" fill="#cfd0d6" transform="translate(-3,5.5)"/>
<polygon points="87.8,656 100,651.2 150,635.5 200,619.8 210,616.6 238.6,610.6 258,608.6 287,606.7 306,607.5 335,608.3 360,607.5 369,603 379.7,589.5 387.7,579 391.7,572.3 406.3,571 419.6,569.6 438.2,564.3 439.5,568.3 442.1,575 448.8,581.6 451.4,592.2 456.7,600.2 462,604.1 470,604.1 472.7,602.8 486,604.5 499.6,605.4 499.6,644.7 506.2,654.3 506.2,656.8 505,660 512.5,672 517.1,680.9 523.1,680.9 528,679.7 531.6,684.5 535.2,689.4 540,691.8 544.9,695.4 549.7,696.6 560,699.7 567.2,703.3 572,705.7 578.1,707 590,706 600,712 606,718 610.7,727.5 613.1,722.6 615.6,715.4 618,703.3 619.2,691.2 620.4,681.6 622.8,675.5 625.8,669.5 631.3,666.5 638.5,668.3 644.5,674.3 651.8,679.2 660,684 666.3,689.9 676.9,692.5 692.8,700.5 703.5,704.5 714,707 719.4,709.2 752,709.2 752,858.8 658.6,858.8 659.1,855.2 661.3,850.9 664.6,847.6 665.7,844.3 663.5,840 660.2,835.7 650,830.5 642.8,828.6 638.5,828 634.1,825.9 632,823.7 627.6,824.8 622.2,821.5 616.7,820.4 611.3,818.3 605.9,816.1 603.7,812.8 610.2,809.6 613.5,804.1 615.7,796.5 613.5,790 612,787.8 609.5,775.8 605.9,771 598,765 590,755 584.2,742 583,738.3 578,730 576.9,727.5 572,726.3 564.8,725 560,723.8 553.5,727 551,722 546.3,717.3 541.4,714.9 540,720 534.5,722.9 527.2,728.7 521.4,733 515.7,736 511.3,741.7 509.9,747.5 504,749 498.3,753.3 492.5,759.1 483.8,763.5 475,763.5 467.8,765 463.5,770.7 463.5,778 460.6,783.8 451.9,788.1 441.7,791 431.6,792.5 424.3,795.4 417,798 409.7,802.8 402.5,812.5 395.2,824.5 388,831.8 380.7,836.6 373.5,835.4 366.2,829.4 359,819.7 355,810 351,808.4 343.9,806 336.6,808.4 331.8,806 324.5,803.5 316,797 312.5,789 308.8,781.8 307.6,772.1 311,762.5 318,756 323.7,750 322.6,745.7 320.4,740.2 316.1,735.9 309.6,734.8 304.1,735.9 300.9,732.6 298.7,721.7 296.5,717.4 291.1,714.1 285.7,713 271.5,716.3 261.7,715.2 256.3,714.1 255.2,721.7 254.1,735.9 250.9,743.5 246.5,746.7 244.3,750 247.2,753 249.7,760 249.1,768.3 244.3,780.4 234.6,787.6 232.6,790 231.7,793.4 229.2,795.9 224.9,795.1 222.4,800.1 219.9,806.1 218.2,811.1 216.5,817.9 214.8,822.1 210.6,827.2 205.5,834.8 202.1,839.9 198.7,844.1 195.4,845 191.1,844.1 190.3,839 186.9,835.6 181,832.3 180.1,829.7 182.7,827.2 186.9,823 190.7,818.7 191.6,815.4 192.4,810.3 193.7,804.4 195.4,798.5 194.5,795.9 186.9,792.5 183,789.4 175,782.8 169.7,777.4 164.4,770.8 159.1,765.5 152.4,764.2 145.8,761.5 140.5,758.8 141.8,757.5 141.8,754.9 136.5,753.5 128.5,753.5 125.2,748.2 121.9,741.6 120.6,736.3 116.6,733.6 108.6,732.3 105.9,727.6 100.6,728.3 98,721.6 96.6,715 100.2,710.8 97.5,688 96.1,685.1 96.8,682.2 94.6,679.3 96.1,676.4 92.5,670.6 95.4,667 91.7,664.8 88.2,665.5" fill="#a6213f"/>
<g fill="none" stroke="#f4e6ea" stroke-width="1" stroke-linejoin="round">
<polyline points="88.3,659.6 94.8,658.5 100.2,660.7 106.7,661.7 113.3,665 115.4,667.2 108.9,672.6 110,674.8 117.6,671.5 124.1,669.3 132.8,667.2 136.1,674.8 142.6,679.1 150.2,678 156.7,680.2 163.3,682.4 168.7,685.7 172,683.5 172,682.4 180.7,682.4 180.7,691 198,691 198,700.9 194.8,703 202.4,705.2 203.5,710.7 211.1,709.6 213.3,706.3 224.1,707.4 237.2,705.2 240,704.3 244.3,705.4 247.6,710.9 246.5,714.1 252,713 256.3,710.9 259,708"/>
<polyline points="213,616.5 215,626.2 222,636 224.6,642 226.3,653 235,659.6 241.5,668.3 241.5,674.8 250.2,679.1 252.4,683.5 256.7,686.7 258.9,692.2 260.8,700"/>
<polyline points="241.5,668.3 248,660 254.6,655.2 258.9,653 264,645 268.7,634.8"/>
<polyline points="245.9,609.8 260,615.2 265.4,621.7 266.5,630.4 268.7,634.8 274,637"/>
<polyline points="327.4,608 323,621.7 320.9,632.6 320,643 318.7,654.3 316.5,665.2 314.3,676.1 318.7,684.8 323,691.3 327.4,700 335,699 342,694"/>
<polyline points="288,656 300,662 310,661 316.5,665.2"/>
<polyline points="290.4,700 293.3,700 297.6,703.3 305.2,706.5 311.7,704.3 316.1,701.1 320,700 327.4,700"/>
<polyline points="323,652.2 340.4,650 345,647 351.3,656.5 356.2,658.1 355,664.2 351.4,670.2 350,674"/>
<polyline points="363.5,650.9 364,640 370,634"/>
<polyline points="391.3,650.9 385.2,656.9 387.6,661.7 393.7,664.2 398.5,669 404.5,671.4 407,676.2 409.4,684.7 402.1,687.1 397.3,690.7 404.5,694.3 411.8,698 414.2,702.8 409.4,707.6 403.3,710 394.9,713.7 390,717.3 387.6,722.1 390,727 392.2,733.5 394,740 395.2,747.2 392.8,755.7 390.4,764.2 396,770 400,775 402.5,779.9 407.3,783.5 414.6,788.3 419.4,791.9 424.3,795.4"/>
<polyline points="398.5,669 406.3,672 419.6,666.6 427.5,666.6 432.8,672 440.8,669.2 448.8,669.2 456.7,673.2 459.4,679.9 467.4,682.5 472.7,677.2 471.4,664.2 469,659.3 471.4,652 470,632 467.4,618.8 464.7,604.1"/>
<polyline points="467,618 470,620.5 477.2,624.2 480.9,631.4 476,636.2 482.1,638.6 488.1,637.4 493,641.1 491.7,644.7 484.5,645.9 477.2,644.7 471.2,648.3"/>
<polyline points="471.4,664.2 473.8,683.5 472.6,700.4 473.8,712.5 483.5,719.7 495.6,724.5 502.8,731.8 510,743.9"/>
<polyline points="319.7,750.4 331.8,752.8 341.4,748 351.1,740.7 353.5,735.9 360.8,726.2 375.3,723.8 385,726.2 390,727"/>
<polyline points="340.9,744.8 345.7,747.2 344.5,752 349.3,755.7 345.7,759.3 348.1,764.2 345.7,771.4 346.9,778.6 354.2,788.3 357.8,794.3 360.2,800.3 362.6,807.6 364,811"/>
<polyline points="346.9,778.6 355,777 365,778.2 375,777.3 385,778.2 395,777 400,775"/>
<polyline points="605.2,724.4 610.5,729.7 615.8,740.3 621.1,748.3 629,751 631.7,761.6 629,772.2 631.7,785.5 626.5,790 627.6,796.5 630.9,806.3 626.5,811.7 623.3,818.3 621.1,821.5"/>
<polyline points="631.7,785.5 639.7,777.5 647.7,773.5 655,779.6 660.9,782 667.9,780.8 672.6,783.1 684,786 700.7,793.7 706.6,790.2 710.1,792.5 713.6,794.8 715,803 718,806 722,809.4 735.3,810 746,816.5 752,816.5"/>
<polyline points="541.4,714.9 544,705 543.9,698"/>
</g>
<g fill="#c79d5e">
<circle cx="146.7" cy="633.8" r="16"/>
<circle cx="224.2" cy="611.5" r="16.4"/>
<circle cx="283.1" cy="590.3" r="16.4"/>
<circle cx="290.8" cy="638.6" r="16.4"/>
<circle cx="360.4" cy="618.6" r="18.9"/>
<circle cx="414.8" cy="590.9" r="16.5"/>
<circle cx="362" cy="691.3" r="19.2"/>
<circle cx="501.6" cy="676.2" r="15.8"/>
<circle cx="451.8" cy="730.8" r="16.4"/>
<circle cx="593" cy="723.4" r="16.3"/>
<circle cx="684.6" cy="705.2" r="16.2"/>
<circle cx="684.3" cy="799.5" r="16.4"/>
<circle cx="274.1" cy="700.8" r="16.3"/>
<circle cx="325.7" cy="769.7" r="16.3"/>
<circle cx="374.2" cy="746.5" r="16.3"/>
<circle cx="394.6" cy="802.3" r="16.3"/>
<circle cx="178.2" cy="713.8" r="16.4"/>
</g>
<g class="num" font-size="13" text-anchor="middle" stroke="#111" stroke-width="0.8">
<text x="146.7" y="640.1" textLength="39" lengthAdjust="spacingAndGlyphs">15,359</text>
<text x="224.2" y="617.8" textLength="34" lengthAdjust="spacingAndGlyphs">7,123</text>
<text x="283.1" y="596.6" textLength="34" lengthAdjust="spacingAndGlyphs">6,430</text>
<text x="290.8" y="644.9" textLength="34" lengthAdjust="spacingAndGlyphs">6,580</text>
<text x="360.4" y="624.9" textLength="39" lengthAdjust="spacingAndGlyphs">15,773</text>
<text x="414.8" y="597.2" textLength="34" lengthAdjust="spacingAndGlyphs">3,480</text>
<text x="362" y="697.6" textLength="39" lengthAdjust="spacingAndGlyphs">84,026</text>
<text x="501.6" y="682.5" textLength="34" lengthAdjust="spacingAndGlyphs">1,227</text>
<text x="451.8" y="737.1" textLength="34" lengthAdjust="spacingAndGlyphs">8,424</text>
<text x="593" y="729.7" textLength="34" lengthAdjust="spacingAndGlyphs">2,054</text>
<text x="684.6" y="711.5" textLength="34" lengthAdjust="spacingAndGlyphs">3,431</text>
<text x="684.3" y="805.8" textLength="34" lengthAdjust="spacingAndGlyphs">4,804</text>
<text x="274.1" y="707.1" textLength="34" lengthAdjust="spacingAndGlyphs">6,940</text>
<text x="325.7" y="776" textLength="34" lengthAdjust="spacingAndGlyphs">3,516</text>
<text x="374.2" y="752.8" textLength="34" lengthAdjust="spacingAndGlyphs">2,585</text>
<text x="394.6" y="808.6" textLength="34" lengthAdjust="spacingAndGlyphs">2,241</text>
<text x="178.2" y="720.1" textLength="34" lengthAdjust="spacingAndGlyphs">5,216</text>
</g>
<g font-family="Liberation Sans" font-weight="bold" font-size="14" text-anchor="middle" fill="#141414" stroke="#141414" stroke-width="3.6" stroke-linejoin="round">
<text x="146.4" y="662.5" textLength="66.6" lengthAdjust="spacingAndGlyphs">Cárdenas</text>
<text x="221.6" y="641" textLength="81" lengthAdjust="spacingAndGlyphs">Comalcalco</text>
<text x="283.5" y="619.3" textLength="53" lengthAdjust="spacingAndGlyphs">Paraíso</text>
<text x="290.6" y="666.6" textLength="61" lengthAdjust="spacingAndGlyphs">Jalpa de</text>
<text x="290.3" y="679.8" textLength="55" lengthAdjust="spacingAndGlyphs">Méndez</text>
<text x="360.5" y="648" textLength="65.7" lengthAdjust="spacingAndGlyphs">Nacajuca</text>
<text x="415.6" y="619.6" textLength="43" lengthAdjust="spacingAndGlyphs">Centla</text>
<text x="361" y="723.3" textLength="46" lengthAdjust="spacingAndGlyphs">Centro</text>
<text x="273" y="729" textLength="80.5" lengthAdjust="spacingAndGlyphs">Cunduacán</text>
<text x="184.7" y="743" textLength="97" lengthAdjust="spacingAndGlyphs">Huimanguillo</text>
<text x="326" y="798.7" textLength="40.8" lengthAdjust="spacingAndGlyphs">Teapa</text>
<text x="374.7" y="775.7" textLength="47.4" lengthAdjust="spacingAndGlyphs">Jalapa</text>
<text x="394" y="831.3" textLength="68" lengthAdjust="spacingAndGlyphs">Tacotalpa</text>
<text x="452" y="760.5" textLength="82.6" lengthAdjust="spacingAndGlyphs">Macuspana</text>
<text x="501" y="705.7" textLength="47.5" lengthAdjust="spacingAndGlyphs">Jonuta</text>
<text x="594.5" y="755.5" textLength="61" lengthAdjust="spacingAndGlyphs">Emiliano</text>
<text x="594.5" y="768.5" textLength="51" lengthAdjust="spacingAndGlyphs">Zapata</text>
<text x="683" y="736.9" textLength="66.3" lengthAdjust="spacingAndGlyphs">Balancán</text>
<text x="682.9" y="829.5" textLength="71.1" lengthAdjust="spacingAndGlyphs">Tenosique</text>
</g>
<g font-family="Liberation Sans" font-weight="bold" font-size="14" text-anchor="middle" fill="#fff" stroke="#fff" stroke-width="0.6" stroke-linejoin="round">
<text x="146.4" y="662.5" textLength="66.6" lengthAdjust="spacingAndGlyphs">Cárdenas</text>
<text x="221.6" y="641" textLength="81" lengthAdjust="spacingAndGlyphs">Comalcalco</text>
<text x="283.5" y="619.3" textLength="53" lengthAdjust="spacingAndGlyphs">Paraíso</text>
<text x="290.6" y="666.6" textLength="61" lengthAdjust="spacingAndGlyphs">Jalpa de</text>
<text x="290.3" y="679.8" textLength="55" lengthAdjust="spacingAndGlyphs">Méndez</text>
<text x="360.5" y="648" textLength="65.7" lengthAdjust="spacingAndGlyphs">Nacajuca</text>
<text x="415.6" y="619.6" textLength="43" lengthAdjust="spacingAndGlyphs">Centla</text>
<text x="361" y="723.3" textLength="46" lengthAdjust="spacingAndGlyphs">Centro</text>
<text x="273" y="729" textLength="80.5" lengthAdjust="spacingAndGlyphs">Cunduacán</text>
<text x="184.7" y="743" textLength="97" lengthAdjust="spacingAndGlyphs">Huimanguillo</text>
<text x="326" y="798.7" textLength="40.8" lengthAdjust="spacingAndGlyphs">Teapa</text>
<text x="374.7" y="775.7" textLength="47.4" lengthAdjust="spacingAndGlyphs">Jalapa</text>
<text x="394" y="831.3" textLength="68" lengthAdjust="spacingAndGlyphs">Tacotalpa</text>
<text x="452" y="760.5" textLength="82.6" lengthAdjust="spacingAndGlyphs">Macuspana</text>
<text x="501" y="705.7" textLength="47.5" lengthAdjust="spacingAndGlyphs">Jonuta</text>
<text x="594.5" y="755.5" textLength="61" lengthAdjust="spacingAndGlyphs">Emiliano</text>
<text x="594.5" y="768.5" textLength="51" lengthAdjust="spacingAndGlyphs">Zapata</text>
<text x="683" y="736.9" textLength="66.3" lengthAdjust="spacingAndGlyphs">Balancán</text>
<text x="682.9" y="829.5" textLength="71.1" lengthAdjust="spacingAndGlyphs">Tenosique</text>
</g>
<text x="163.15" y="891.80" font-size="23.6919" font-family="Liberation Sans" font-weight="bold" fill="#0d0d0d" stroke="#0d0d0d" stroke-width="2.3" stroke-linejoin="round" textLength="10.79" lengthAdjust="spacingAndGlyphs">T</text>
<text x="175.74" y="891.80" font-size="23.6919" font-family="Liberation Sans" font-weight="bold" fill="#0d0d0d" stroke="#0d0d0d" stroke-width="2.3" stroke-linejoin="round" textLength="21.05" lengthAdjust="spacingAndGlyphs">O</text>
<text x="198.64" y="891.80" font-size="23.6919" font-family="Liberation Sans" font-weight="bold" fill="#0d0d0d" stroke="#0d0d0d" stroke-width="2.3" stroke-linejoin="round" textLength="11.20" lengthAdjust="spacingAndGlyphs">T</text>
<text x="211.76" y="891.80" font-size="23.6919" font-family="Liberation Sans" font-weight="bold" fill="#0d0d0d" stroke="#0d0d0d" stroke-width="2.3" stroke-linejoin="round" textLength="17.01" lengthAdjust="spacingAndGlyphs">A</text>
<text x="231.13" y="891.80" font-size="23.6919" font-family="Liberation Sans" font-weight="bold" fill="#0d0d0d" stroke="#0d0d0d" stroke-width="2.3" stroke-linejoin="round" textLength="9.28" lengthAdjust="spacingAndGlyphs">L</text>
<text x="251.26" y="891.80" font-size="23.6919" font-family="Liberation Sans" font-weight="bold" fill="#0d0d0d" stroke="#0d0d0d" stroke-width="2.3" stroke-linejoin="round" textLength="17.19" lengthAdjust="spacingAndGlyphs">D</text>
<text x="270.86" y="891.80" font-size="23.6919" font-family="Liberation Sans" font-weight="bold" fill="#0d0d0d" stroke="#0d0d0d" stroke-width="2.3" stroke-linejoin="round" textLength="9.87" lengthAdjust="spacingAndGlyphs">E</text>
<text x="292.86" y="891.80" font-size="23.6919" font-family="Liberation Sans" font-weight="bold" fill="#0d0d0d" stroke="#0d0d0d" stroke-width="2.3" stroke-linejoin="round" textLength="12.85" lengthAdjust="spacingAndGlyphs">P</text>
<text x="307.37" y="891.80" font-size="23.6919" font-family="Liberation Sans" font-weight="bold" fill="#0d0d0d" stroke="#0d0d0d" stroke-width="2.3" stroke-linejoin="round" textLength="16.79" lengthAdjust="spacingAndGlyphs">A</text>
<text x="326.68" y="891.80" font-size="23.6919" font-family="Liberation Sans" font-weight="bold" fill="#0d0d0d" stroke="#0d0d0d" stroke-width="2.3" stroke-linejoin="round" textLength="15.24" lengthAdjust="spacingAndGlyphs">C</text>
<text x="344.40" y="891.80" font-size="23.6919" font-family="Liberation Sans" font-weight="bold" fill="#0d0d0d" stroke="#0d0d0d" stroke-width="2.3" stroke-linejoin="round" textLength="5.59" lengthAdjust="spacingAndGlyphs">I</text>
<text x="352.16" y="891.80" font-size="23.6919" font-family="Liberation Sans" font-weight="bold" fill="#0d0d0d" stroke="#0d0d0d" stroke-width="2.3" stroke-linejoin="round" textLength="10.82" lengthAdjust="spacingAndGlyphs">E</text>
<text x="365.40" y="891.80" font-size="23.6919" font-family="Liberation Sans" font-weight="bold" fill="#0d0d0d" stroke="#0d0d0d" stroke-width="2.3" stroke-linejoin="round" textLength="20.02" lengthAdjust="spacingAndGlyphs">N</text>
<text x="387.23" y="891.80" font-size="23.6919" font-family="Liberation Sans" font-weight="bold" fill="#0d0d0d" stroke="#0d0d0d" stroke-width="2.3" stroke-linejoin="round" textLength="11.72" lengthAdjust="spacingAndGlyphs">T</text>
<text x="401.71" y="891.80" font-size="23.6919" font-family="Liberation Sans" font-weight="bold" fill="#0d0d0d" stroke="#0d0d0d" stroke-width="2.3" stroke-linejoin="round" textLength="10.34" lengthAdjust="spacingAndGlyphs">E</text>
<text x="415.02" y="891.80" font-size="23.6919" font-family="Liberation Sans" font-weight="bold" fill="#0d0d0d" stroke="#0d0d0d" stroke-width="2.3" stroke-linejoin="round" textLength="12.25" lengthAdjust="spacingAndGlyphs">S</text>
<text x="438.29" y="891.80" font-size="23.6919" font-family="Liberation Sans" font-weight="bold" fill="#0d0d0d" stroke="#0d0d0d" stroke-width="2.3" stroke-linejoin="round" textLength="16.83" lengthAdjust="spacingAndGlyphs">H</text>
<text x="457.74" y="891.80" font-size="23.6919" font-family="Liberation Sans" font-weight="bold" fill="#0d0d0d" stroke="#0d0d0d" stroke-width="2.3" stroke-linejoin="round" textLength="21.05" lengthAdjust="spacingAndGlyphs">O</text>
<text x="482.16" y="891.80" font-size="23.6919" font-family="Liberation Sans" font-weight="bold" fill="#0d0d0d" stroke="#0d0d0d" stroke-width="2.3" stroke-linejoin="round" textLength="11.36" lengthAdjust="spacingAndGlyphs">S</text>
<text x="496.77" y="891.80" font-size="23.6919" font-family="Liberation Sans" font-weight="bold" fill="#0d0d0d" stroke="#0d0d0d" stroke-width="2.3" stroke-linejoin="round" textLength="12.73" lengthAdjust="spacingAndGlyphs">P</text>
<text x="513.84" y="891.80" font-size="23.6919" font-family="Liberation Sans" font-weight="bold" fill="#0d0d0d" stroke="#0d0d0d" stroke-width="2.3" stroke-linejoin="round" textLength="4.63" lengthAdjust="spacingAndGlyphs">I</text>
<text x="521.15" y="891.80" font-size="23.6919" font-family="Liberation Sans" font-weight="bold" fill="#0d0d0d" stroke="#0d0d0d" stroke-width="2.3" stroke-linejoin="round" textLength="10.68" lengthAdjust="spacingAndGlyphs">T</text>
<text x="533.87" y="891.80" font-size="23.6919" font-family="Liberation Sans" font-weight="bold" fill="#0d0d0d" stroke="#0d0d0d" stroke-width="2.3" stroke-linejoin="round" textLength="16.90" lengthAdjust="spacingAndGlyphs">A</text>
<text x="553.02" y="891.80" font-size="23.6919" font-family="Liberation Sans" font-weight="bold" fill="#0d0d0d" stroke="#0d0d0d" stroke-width="2.3" stroke-linejoin="round" textLength="10.36" lengthAdjust="spacingAndGlyphs">L</text>
<text x="567.25" y="891.80" font-size="23.6919" font-family="Liberation Sans" font-weight="bold" fill="#0d0d0d" stroke="#0d0d0d" stroke-width="2.3" stroke-linejoin="round" textLength="5.40" lengthAdjust="spacingAndGlyphs">I</text>
<text x="574.72" y="891.80" font-size="23.6919" font-family="Liberation Sans" font-weight="bold" fill="#0d0d0d" stroke="#0d0d0d" stroke-width="2.3" stroke-linejoin="round" textLength="12.83" lengthAdjust="spacingAndGlyphs">Z</text>
<text x="589.50" y="891.80" font-size="23.6919" font-family="Liberation Sans" font-weight="bold" fill="#0d0d0d" stroke="#0d0d0d" stroke-width="2.3" stroke-linejoin="round" textLength="18.84" lengthAdjust="spacingAndGlyphs">A</text>
<text x="609.95" y="891.80" font-size="23.6919" font-family="Liberation Sans" font-weight="bold" fill="#0d0d0d" stroke="#0d0d0d" stroke-width="2.3" stroke-linejoin="round" textLength="17.31" lengthAdjust="spacingAndGlyphs">D</text>
<text x="630.46" y="891.80" font-size="23.6919" font-family="Liberation Sans" font-weight="bold" fill="#0d0d0d" stroke="#0d0d0d" stroke-width="2.3" stroke-linejoin="round" textLength="20.60" lengthAdjust="spacingAndGlyphs">O</text>
<text x="652.93" y="891.80" font-size="23.6919" font-family="Liberation Sans" font-weight="bold" fill="#0d0d0d" stroke="#0d0d0d" stroke-width="2.3" stroke-linejoin="round" textLength="12.02" lengthAdjust="spacingAndGlyphs">S</text>
<rect x="91.4" y="905.4" width="660.1" height="127" fill="#fdfdfe"/>
<g stroke="#8e8e90" stroke-width="1">
<line x1="91.4" y1="1019.7" x2="751.5" y2="1019.7"/>
<line x1="91.4" y1="1007" x2="751.5" y2="1007"/>
<line x1="91.4" y1="994.3" x2="751.5" y2="994.3"/>
<line x1="91.4" y1="981.6" x2="751.5" y2="981.6"/>
<line x1="91.4" y1="968.9" x2="751.5" y2="968.9"/>
<line x1="91.4" y1="956.2" x2="751.5" y2="956.2"/>
<line x1="91.4" y1="943.5" x2="751.5" y2="943.5"/>
<line x1="91.4" y1="930.8" x2="751.5" y2="930.8"/>
<line x1="91.4" y1="918.1" x2="751.5" y2="918.1"/>
<line x1="91.4" y1="905.4" x2="751.5" y2="905.4"/>
</g>
<g stroke="#7a7a7c" stroke-width="1.2" fill="none"><polyline points="91.4,905.4 91.4,1032.4 751.5,1032.4 751.5,905.4"/></g>
<g class="sr" font-size="8.6" text-anchor="end" fill="#111">
<text x="89" y="1033.9">0</text>
<text x="89" y="1021.2">10</text>
<text x="89" y="1008.5">20</text>
<text x="89" y="995.8">30</text>
<text x="89" y="983.1">40</text>
<text x="89" y="970.4">50</text>
<text x="89" y="957.7">60</text>
<text x="89" y="945">70</text>
<text x="89" y="932.3">80</text>
<text x="89" y="919.6">90</text>
<text x="89" y="906.9">100</text>
</g>
<g fill="#a31f40">
<rect x="98.2" y="920.64" width="16.2" height="111.76"/>
<rect x="133.9" y="1015.89" width="16.2" height="16.51"/>
<rect x="171.9" y="1023.51" width="16.2" height="8.89"/>
<rect x="207.9" y="1022.24" width="16.2" height="10.16"/>
<rect x="244.2" y="991.76" width="16.2" height="40.64"/>
<rect x="284.9" y="1027.32" width="16.2" height="5.08"/>
<rect x="327.6" y="1026.05" width="16.2" height="6.35"/>
<rect x="376.7" y="1019.7" width="16.2" height="12.7"/>
<rect x="426.1" y="1029.86" width="16.2" height="2.54"/>
<rect x="461.9" y="1031.13" width="16.2" height="1.27"/>
<rect x="636.6" y="1031.13" width="16.2" height="1.27"/>
<rect x="681.7" y="1015.89" width="16.2" height="16.51"/>
<rect x="726.8" y="1028.59" width="16.2" height="3.81"/>
</g>
<g class="sb" font-size="11" text-anchor="middle" fill="#111">
<text x="106.3" y="918.84">88</text>
<text x="142" y="1014.09">13</text>
<text x="180" y="1021.71">7</text>
<text x="216" y="1020.44">8</text>
<text x="252.3" y="989.96">32</text>
<text x="293" y="1025.52">4</text>
<text x="335.7" y="1024.25">5</text>
<text x="384.8" y="1017.9">10</text>
<text x="434.2" y="1028.06">2</text>
<text x="470" y="1029.33">1</text>
<text x="512" y="1030.6">0</text>
<text x="555" y="1030.6">0</text>
<text x="599" y="1030.6">0</text>
<text x="644.7" y="1029.33">1</text>
<text x="689.8" y="1014.09">13</text>
<text x="734.9" y="1026.79">3</text>
</g>
<g class="sr" text-anchor="middle" fill="#111">
<text x="106.3" y="1041.8" font-size="8.6">Hospital</text>
<text x="106.3" y="1050.6" font-size="8.6">Juan Graham</text>
<text x="142" y="1041.8" font-size="8.6">ISSET</text>
<text x="180" y="1041.8" font-size="8.6">ISSSTE</text>
<text x="216" y="1041.8" font-size="8.6">PEMEX</text>
<text x="252.3" y="1041.8" font-size="8.6">IMSS</text>
<text x="293" y="1041.8" font-size="8.6">Hospital</text>
<text x="293" y="1050.6" font-size="8.6">de la</text>
<text x="293" y="1059.4" font-size="8.6">Mujer</text>
<text x="335.7" y="1041.8" font-size="8.6">Hospital</text>
<text x="335.7" y="1050.6" font-size="8.6">del Niño</text>
<text x="384.8" y="1041.8" font-size="8.6">Hospital</text>
<text x="384.8" y="1050.6" font-size="8.6">General de</text>
<text x="384.8" y="1059.4" font-size="8.6">Comalcalco</text>
<text x="434.2" y="1041.8" font-size="8.6">Hospital</text>
<text x="434.2" y="1050.6" font-size="8.6">Air</text>
<text x="470" y="1041.8" font-size="8.6">Hospital</text>
<text x="470" y="1050.6" font-size="8.6">Ángeles</text>
<text x="512" y="1041.8" font-size="6.6">Hospital</text>
<text x="512" y="1050.6" font-size="6.6">Militar Zona</text>
<text x="512" y="1059.4" font-size="6.6">Villahermosa</text>
<text x="555" y="1041.8" font-size="6.6">Hospital</text>
<text x="555" y="1050.6" font-size="6.6">Militar Zona</text>
<text x="555" y="1059.4" font-size="6.6">Tenosique</text>
<text x="599" y="1041.8" font-size="8.6">Hospital</text>
<text x="599" y="1050.6" font-size="8.6">Maximiliano</text>
<text x="599" y="1059.4" font-size="8.6">Dorantes</text>
<text x="644.7" y="1041.8" font-size="8.6">Hospital de</text>
<text x="644.7" y="1050.6" font-size="8.6">Tenosique</text>
<text x="689.8" y="1041.8" font-size="8.6">UCAM del</text>
<text x="689.8" y="1050.6" font-size="8.6">Hospital</text>
<text x="689.8" y="1059.4" font-size="8.6">Rovirosa</text>
<text x="734.9" y="1041.8" font-size="8.6">UHTT del</text>
<text x="734.9" y="1050.6" font-size="8.6">Parque</text>
<text x="734.9" y="1059.4" font-size="8.6">Tabasco</text>
</g>
<g class="sb" font-size="11.2" text-anchor="middle" fill="#111">
<text x="106" y="1079">95</text>
<text x="144.8" y="1079">13</text>
<text x="177.5" y="1079">9</text>
<text x="214" y="1079">12</text>
<text x="251" y="1079">33</text>
<text x="291.5" y="1079">4</text>
<text x="337.8" y="1079">5</text>
<text x="385.8" y="1079">13</text>
<text x="431.8" y="1079">2</text>
<text x="470.3" y="1079">1</text>
<text x="512" y="1079">0</text>
<text x="555.4" y="1079">0</text>
<text x="599.3" y="1079">0</text>
<text x="645.7" y="1079">2</text>
<text x="692.3" y="1079">16</text>
<text x="737" y="1079">3</text>
</g>
<g class="sb" font-size="9" text-anchor="end" fill="#111">
<text x="74.4" y="1050.6">Total de</text>
<text x="74.4" y="1060">pacientes</text>
<text x="74.4" y="1069.4">hospitalizados</text>
<text x="74.4" y="1078.8">por institución</text>
</g>
<rect x="775.4" y="969" width="14.6" height="14.8" fill="#b01e41"/>
<text class="sb" x="760" y="997.8" font-size="9.6" textLength="51.7" lengthAdjust="spacingAndGlyphs" fill="#111">POSITIVOS</text>
<text class="sb" x="31.2" y="1105.6" font-size="18.6" textLength="319.2" lengthAdjust="spacingAndGlyphs" fill="#9b1b45" stroke="#9b1b45" stroke-width="0.7">Líneas telefónicas ante COVID-19</text>
<circle cx="371.7" cy="1099.3" r="6.8" fill="#bb935a"/>
<path transform="translate(371.7 1099.3) scale(0.85) translate(-371.9 -1099.6)" d="M368.3 1095.6 c0.8-0.6 1.6-0.4 2 0.3 l0.8 1.5 c0.3 0.6 0.1 1.1-0.4 1.5 l-0.5 0.4 c0.5 1.1 1.3 2 2.4 2.6 l0.5-0.4 c0.5-0.4 1.1-0.4 1.5 0 l1.3 1.1 c0.5 0.5 0.5 1.2-0.1 1.8 c-0.9 0.9-2.1 1-3.4 0.3 c-2.2-1.2-3.8-3.1-4.6-5.3 c-0.4-1.2-0.2-2.2 0.5-3.1z" fill="#fff"/>
<text x="383.90" y="1105.80" font-size="17.4" font-family="Liberation Sans" font-weight="bold" fill="#0d0d0d" stroke="#0d0d0d" stroke-width="0.5" stroke-linejoin="round" textLength="124.96" lengthAdjust="spacingAndGlyphs">800 6241 774</text>
<text x="564.55" y="1105.80" font-size="17.4" font-family="Liberation Sans" font-weight="bold" fill="#0d0d0d" stroke="#0d0d0d" stroke-width="0.5" stroke-linejoin="round" textLength="135.37" lengthAdjust="spacingAndGlyphs">99 33 57 11 11</text>
<text x="763.70" y="1105.80" font-size="17.4" font-family="Liberation Sans" font-weight="bold" fill="#0d0d0d" stroke="#0d0d0d" stroke-width="0.5" stroke-linejoin="round" textLength="31.06" lengthAdjust="spacingAndGlyphs">911</text>
<rect x="535.9" y="1092.6" width="2.4" height="13.2" fill="#0d0d0d"/>
<rect x="734.4" y="1092.6" width="2.4" height="13.2" fill="#0d0d0d"/>
<rect x="39.7" y="1112" width="746.8" height="34.6" fill="#bc9358"/>
<g font-size="14.8" fill="#fff">
<text class="sr" x="64.8" y="1126.4" textLength="103.8" lengthAdjust="spacingAndGlyphs">PARA EVITAR EL</text>
<text class="sb" x="174" y="1126.4" textLength="193.2" lengthAdjust="spacingAndGlyphs">AUMENTO DE CONTAGIOS</text>
<text class="sr" x="370.6" y="1126.4" textLength="36.2" lengthAdjust="spacingAndGlyphs">Y LA</text>
<text class="sb" x="410" y="1126.4" textLength="352.3" lengthAdjust="spacingAndGlyphs">SATURACIÓN DE HOSPITALES QUÉDATE EN CASA.</text>
<text class="sr" x="162.8" y="1142.6" textLength="131.9" lengthAdjust="spacingAndGlyphs">SI NECESITAS SALIR</text>
<text class="sb" x="299" y="1142.6" textLength="133.9" lengthAdjust="spacingAndGlyphs">USA CUBREBOCAS</text>
<text class="sr" x="438.6" y="1142.6" textLength="95.7" lengthAdjust="spacingAndGlyphs">Y MANTÉN TU</text>
<text class="sb" x="540" y="1142.6" textLength="125.7" lengthAdjust="spacingAndGlyphs">SANA DISTANCIA</text>
</g>
<text x="65.07" y="1164.30" font-size="14.6" font-family="Liberation Sans" font-weight="bold" fill="#b99862" stroke="#b99862" stroke-width="0.5" stroke-linejoin="round" textLength="698.23" lengthAdjust="spacingAndGlyphs">Las cifras de la Secretaría de Salud de Tabasco y de la Secretaría de Salud del Gobierno de</text>
<text x="41.47" y="1181.20" font-size="14.4" font-family="Liberation Sans" font-weight="bold" fill="#b99862" stroke="#b99862" stroke-width="0.5" stroke-linejoin="round" textLength="744.08" lengthAdjust="spacingAndGlyphs">México, están sujetas a cambios y actualizaciones debido a los horarios de corte de información.</text>
<rect x="0" y="1184.4" width="828" height="8" fill="#c19a68"/>
<rect x="0" y="1192.2" width="828" height="88" fill="#9d0e41"/>
<text x="362.6" y="1238.5" font-family="Liberation Serif, serif" font-weight="bold" font-size="35.3" textLength="117.3" lengthAdjust="spacingAndGlyphs" fill="#fff" stroke="#fff" stroke-width="0.6">SALUD</text>
<text x="362.8" y="1254.6" font-family="Liberation Serif, serif" font-size="14.2" textLength="148.7" lengthAdjust="spacingAndGlyphs" fill="#fff">SECRETARÍA DE SALUD</text>
<g fill="none" stroke="#f6e9ee" stroke-width="0.9" stroke-linejoin="round">
<path d="M322.5 1211.6 H344.8 L350.4 1216.4 L348.8 1217.9 V1247.5 Q348.8 1250.8 345 1251.4 L336.2 1252.4 Q333.5 1253.8 330.8 1252.4 L322 1251.4 Q318.2 1250.8 318.2 1247.5 V1217.9 L316.6 1216.4 Z"/>
<line x1="333.5" y1="1211.6" x2="333.5" y2="1253"/>
<line x1="318.2" y1="1232.2" x2="348.8" y2="1232.2"/>
<path d="M326.2 1211.2 V1208.6 C323.5 1206.5 325.5 1203 328.5 1204.2 C329.5 1201.8 331.5 1202 333.5 1202.6 C335.5 1202 337.5 1201.8 338.5 1204.2 C341.5 1203 343.5 1206.5 340.8 1208.6 V1211.2"/>
<line x1="326.2" y1="1208.6" x2="340.8" y2="1208.6"/>
<path d="M320.5 1215.5 h4 v3 h2 v-3 h4 M321 1220 h9 M322 1224 h7 M320.5 1228.5 h10"/>
<path d="M336 1214 L345.5 1228 M339 1220.5 a3.5 3.5 0 1 0 5 -3"/>
<path d="M321 1246 Q324 1238 328 1236 Q330 1240 329.5 1247 M338 1247 Q339 1238 343 1236 Q347 1240 346 1247 M337 1240 h3 M343 1243 h3"/>
</g>
<g fill="#f6e9ee">
<ellipse cx="333.5" cy="1227.5" rx="3.3" ry="4.2"/>
<path d="M329.8 1234 h7.4 l-1.5 3.2 h-4.4z"/>
<circle cx="333.5" cy="1201.3" r="0.9"/>
<circle cx="331" cy="1206.3" r="0.8"/><circle cx="336" cy="1206.3" r="0.8"/>
</g>
<text x="333.4" y="1263" font-family="Liberation Serif, serif" font-weight="bold" font-size="9.4" text-anchor="middle" textLength="35" lengthAdjust="spacingAndGlyphs" fill="#fff">TABASCO</text>

</svg>
</body></html>
